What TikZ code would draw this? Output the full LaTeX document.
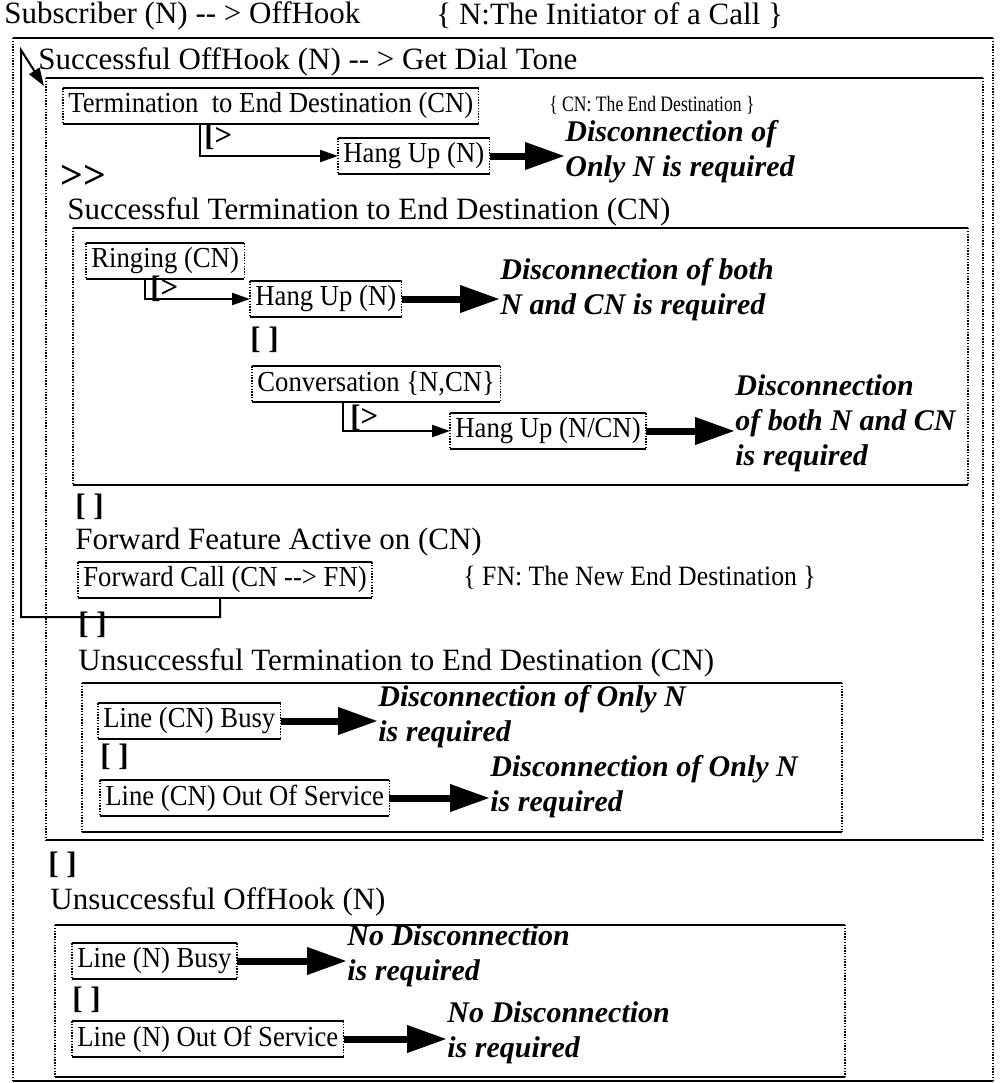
\documentclass[tikz,border=0pt]{standalone}
\usepackage{fontspec}
\setmainfont{Liberation Serif}
\newfontfamily\boxfamily[FakeStretch=0.92]{Liberation Serif}
\newfontfamily\narrowfamily[FakeStretch=0.8]{Liberation Serif}
\usetikzlibrary{arrows.meta}

% a frame with solid top/bottom rules and dotted sides
\newcommand\sideframe[2]{%
  \draw[hedge] (#1) -- (#1 -| #2) (#1 |- #2) -- (#2);
  \draw[vedge] (#1) -- (#1 |- #2) (#1 -| #2) -- (#2);}

\begin{document}
\begin{tikzpicture}[x=0.5pt,y=-0.5pt,
  hedge/.style={line width=1.2pt},
  vedge/.style={line width=0.75pt, dash pattern=on 0.7pt off 0.7pt},
  head/.style={font=\fontsize{15.5}{18}\selectfont, anchor=west, inner sep=0pt},
  opsym/.style={font=\fontsize{15.5}{18}\selectfont\bfseries, anchor=west, inner sep=0pt},
  note/.style={font=\boxfamily\fontsize{14}{15}\selectfont, anchor=west, inner sep=0pt},
  smallnote/.style={font=\narrowfamily\fontsize{11}{13}\selectfont, anchor=west, inner sep=0pt},
  lbox/.style={font=\boxfamily\fontsize{14.5}{17}\selectfont, anchor=west,
    inner xsep=2.5pt, inner ysep=0pt, minimum height=17.5pt},
  result/.style={font=\fontsize{15}{17.5}\selectfont\bfseries\itshape,
    anchor=west, align=left, inner sep=0pt},
  bigarrow/.style={line width=3.5pt, -{Triangle[length=20pt,width=13pt]}},
  thinarrow/.style={line width=1pt, -{Triangle[length=9pt,width=6pt]}},
]
\path[fill=white, use as bounding box] (0,0) rectangle (1000,1083);

% ---- nested process frames
\coordinate (outNW) at (13,38);   \coordinate (outSE) at (993,1081);
\coordinate (c2NW) at (46,78);    \coordinate (c2SE) at (983,840);
\coordinate (c3NW) at (73,228);   \coordinate (c3SE) at (968,485);
\coordinate (c4NW) at (82,683);   \coordinate (c4SE) at (842,832);
\coordinate (c5NW) at (55,925);   \coordinate (c5SE) at (845,1077);
\sideframe{outNW}{outSE}
\sideframe{c2NW}{c2SE}
\sideframe{c3NW}{c3SE}
\sideframe{c4NW}{c4SE}
\sideframe{c5NW}{c5SE}

% ---- top level
\node[head] (sub) at (4,16) {Subscriber (N) -{}- > OffHook};
\node[head] (initn) at (436,16) {\{ N:The Initiator of a Call \}};
\node[head] (succoff) at (38,62) {Successful OffHook (N) -{}- > Get Dial Tone};

% ---- termination attempt
\node[lbox] (term) at (63,106) {Termination~~to End Destination (CN)};
\node[smallnote] (cnnote) at (549,105) {\{ CN: The End Destination \}};
\node[lbox] (hang1) at (338,156) {Hang Up (N)};
\node[opsym] (dis1) at (204,137) {[>};
\node[result] (res1) at (565,152) {Disconnection of\\Only N is required};
\node[opsym, font=\fontsize{20}{20}\selectfont\bfseries] (enab) at (60,177) {>{}>};

% ---- successful termination
\node[head] (sucterm) at (67,212) {Successful Termination to End Destination (CN)};
\node[lbox] (ring) at (86,261) {Ringing (CN)};
\node[lbox] (hang2) at (250,299) {Hang Up (N)};
\node[opsym] (dis2) at (150,289) {[>};
\node[result] (res2) at (500,290) {Disconnection of both\\N and CN is required};
\node[opsym] (ch1) at (250,340) {[ ]};
\node[lbox] (conv) at (252,384) {Conversation \{N,CN\}};
\node[lbox] (hang3) at (450,431) {Hang Up (N/CN)};
\node[opsym] (dis3) at (350,418) {[>};
\node[result] (res3) at (735,423) {Disconnection\\of both N and CN\\is required};

% ---- forwarding
\node[opsym] (ch2) at (75,507) {[ ]};
\node[head] (fwdact) at (75,542) {Forward Feature Active on (CN)};
\node[lbox] (fwd) at (78,580) {Forward Call (CN -{}-> FN)};
\node[note] (fnnote) at (463,578) {\{ FN: The New End Destination \}};

% ---- unsuccessful termination
\node[opsym] (ch3) at (78,625) {[ ]};
\node[head] (unsterm) at (78,663) {Unsuccessful Termination to End Destination (CN)};
\node[lbox] (lcnb) at (98,721) {Line (CN) Busy};
\node[result] (res4) at (378,717) {Disconnection of Only N\\is required};
\node[opsym] (ch4) at (100,757) {[ ]};
\node[lbox] (lcno) at (100,798) {Line (CN) Out Of Service};
\node[result] (res5) at (490,787) {Disconnection of Only N\\is required};

% ---- unsuccessful off-hook
\node[opsym] (ch5) at (48,865) {[ ]};
\node[head] (unsoff) at (50,902) {Unsuccessful OffHook (N)};
\node[lbox] (lnb) at (72,961) {Line (N) Busy};
\node[result] (res6) at (347,956) {No Disconnection\\is required};
\node[opsym] (ch6) at (72,1000) {[ ]};
\node[lbox] (lno) at (72,1039) {Line (N) Out Of Service};
\node[result] (res7) at (447,1033) {No Disconnection\\is required};

% ---- frames round the small boxes
\foreach \b in {term,hang1,ring,hang2,conv,hang3,fwd,lcnb,lcno,lnb,lno}
  {\sideframe{\b.north west}{\b.south east}}

% ---- disabling ([>) connectors
\draw[thinarrow] ([xshift=68.5pt]term.south west) |- (hang1.west);
\draw[thinarrow] ([xshift=29.5pt]ring.south west) |- (hang2.west);
\draw[thinarrow] ([xshift=45.5pt]conv.south west) |- (hang3.west);

% ---- loop back after forwarding
\coordinate (lpA) at (21,617);
\coordinate (lpB) at (21,50);
\coordinate (lpT) at (44,86);
\draw[thinarrow] ([xshift=71pt]fwd.south west) |- (lpA) -- (lpB) -- (lpT);

% ---- results
\draw[bigarrow] (hang1.east) -- (hang1.east -| res1.west);
\draw[bigarrow] (hang2.east) -- (hang2.east -| res2.west);
\draw[bigarrow] (hang3.east) -- (hang3.east -| res3.west);
\draw[bigarrow] (lcnb.east) -- (lcnb.east -| res4.west);
\draw[bigarrow] (lcno.east) -- (lcno.east -| res5.west);
\draw[bigarrow] (lnb.east) -- (lnb.east -| res6.west);
\draw[bigarrow] (lno.east) -- (lno.east -| res7.west);
\end{tikzpicture}
\end{document}
